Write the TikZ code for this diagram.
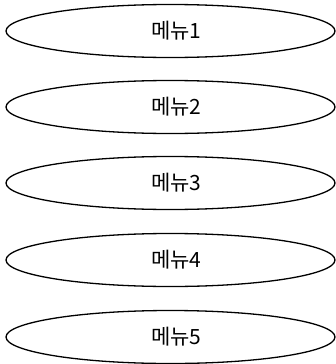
\documentclass[tikz,border=0pt]{standalone}
\usepackage{fontspec}
\newfontfamily\kr{Noto Sans CJK KR}
\usetikzlibrary{shapes.geometric}
\begin{document}
\begin{tikzpicture}[x=1pt,y=-1pt,
  menuitem/.style={draw=black, line width=1.3pt, ellipse, inner sep=0pt,
    minimum width=329pt, minimum height=53pt},
  menutext/.style={font=\kr\fontsize{21}{23}\selectfont, xshift=6pt}]
\useasboundingbox (0,0) rectangle (336,364);
\node[menuitem, label={[menutext]center:메뉴1}] (m1) at (170.5,31) {};
\node[menuitem, label={[menutext]center:메뉴2}] (m2) at (170.5,107) {};
\node[menuitem, label={[menutext]center:메뉴3}] (m3) at (170.5,183) {};
\node[menuitem, label={[menutext]center:메뉴4}] (m4) at (170.5,260) {};
\node[menuitem, label={[menutext]center:메뉴5}] (m5) at (170.5,337) {};
\end{tikzpicture}
\end{document}
